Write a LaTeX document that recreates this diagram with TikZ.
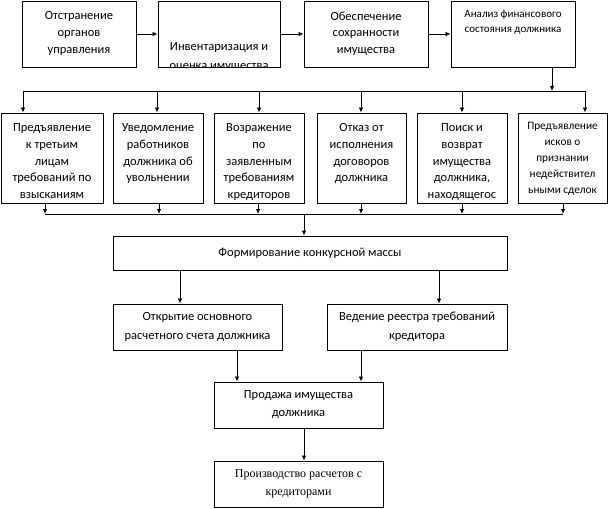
\documentclass[tikz,border=0pt]{standalone}
\usepackage{fontspec}
\setmainfont{Carlito}
\newfontfamily\serifru{Liberation Serif}
\usetikzlibrary{arrows.meta}
\begin{document}
\begin{tikzpicture}[x=1pt,y=-1pt,
  box/.style={draw=black, line width=0.9pt, fill=white, inner sep=0pt},
  lbl/.style={align=center, inner sep=0pt, anchor=north, execute at begin node=\strut},
  big/.style={font=\fontsize{12.5}{16.7}\selectfont},
  small/.style={font=\fontsize{11}{15.5}\selectfont},
  arr/.style={-{Latex[length=5pt,width=4.5pt]}, line width=0.8pt},
  ln/.style={line width=0.8pt}]
\useasboundingbox (0,0) rectangle (609,508);
% top row
\node[box, minimum width=114pt, minimum height=66pt] (b1) at (79,34) {};
\node[box, minimum width=122pt, minimum height=66pt] (b2) at (219,34) {};
\node[box, minimum width=124pt, minimum height=66pt] (b3) at (366,34) {};
\node[box, minimum width=124pt, minimum height=66pt] (b4) at (513,34) {};
\node[lbl, big] (t1) at ([yshift=-11pt]b1.north) {Отстранение\\органов\\управления};
\begin{scope}
\clip (b2.north west) rectangle (b2.south east);
\node[lbl, font=\fontsize{12.5}{19}\selectfont] (t2) at ([yshift=-42pt]b2.north) {Инвентаризация и\\оценка имущества};
\end{scope}
\node[lbl, big] (t3) at ([yshift=-11pt]b3.north) {Обеспечение\\сохранности\\имущества};
\node[lbl, small] (t4) at ([yshift=-9pt]b4.north) {Анализ финансового\\состояния должника};
\draw[arr] (b1) -- (b2);
\draw[arr] (b2) -- (b3);
\draw[arr] (b3) -- (b4);
% second row
\node[box, minimum width=102pt, minimum height=90pt] (ra) at (52,158) {};
\node[box, minimum width=90pt, minimum height=90pt] (rb) at (158,158) {};
\node[box, minimum width=90pt, minimum height=90pt] (rc) at (259,158) {};
\node[box, minimum width=89pt, minimum height=90pt] (rd) at (361.5,158) {};
\node[box, minimum width=90pt, minimum height=90pt] (re) at (462,158) {};
\node[box, minimum width=89pt, minimum height=90pt] (rf) at (562.5,158) {};
\node[lbl, big] (la) at ([yshift=-11pt]ra.north) {Предъявление\\к третьим\\лицам\\требований по\\взысканиям};
\node[lbl, big] (lb) at ([yshift=-11pt]rb.north) {Уведомление\\работников\\должника об\\увольнении};
\node[lbl, big] (lc) at ([yshift=-11pt]rc.north) {Возражение\\по\\заявленным\\требованиям\\кредиторов};
\node[lbl, big] (ld) at ([yshift=-11pt]rd.north) {Отказ от\\исполнения\\договоров\\должника};
\node[lbl, big] (le) at ([yshift=-11pt]re.north) {Поиск и\\возврат\\имущества\\должника,\\находящегос};
\node[lbl, font=\fontsize{11.3}{16}\selectfont] (lf) at ([yshift=-9pt]rf.north) {Предъявление\\исков о\\признании\\недействител\\ьными сделок};
% upper bus
\coordinate (d4) at (552,91);
\coordinate (ta) at (23,91);
\coordinate (tb) at (157,91);
\coordinate (tc) at (259,91);
\coordinate (td) at (361,91);
\coordinate (te) at (462,91);
\coordinate (tf) at (585,91);
\draw[arr] (b4.south -| d4) -- (d4);
\draw[ln] (ta) -- (tf);
\foreach \c/\n in {ta/ra,tb/rb,tc/rc,td/rd,te/re,tf/rf}
  \draw[arr] (\c) -- (\c |- \n.north);
% lower bus
\coordinate (ba) at (45,214);
\coordinate (bb) at (159,214);
\coordinate (bc) at (258,214);
\coordinate (bd) at (361,214);
\coordinate (be) at (462,214);
\coordinate (bf) at (563,214);
\coordinate (bm) at (304,214);
\foreach \c/\n in {ba/ra,bb/rb,bc/rc,bd/rd,be/re,bf/rf}
  \draw[arr] (\c |- \n.south) -- (\c);
\draw[ln] (ba) -- (bf);
% formation
\node[box, big, minimum width=394pt, minimum height=34pt] (form) at (310,253) {Формирование конкурсной массы};
\draw[arr] (bm) -- (bm |- form.north);
\node[box, align=center, font=\fontsize{12.5}{19.5}\selectfont, minimum width=169pt, minimum height=46pt] (open) at (197.5,327) {Открытие основного\\расчетного счета должника};
\node[box, align=center, font=\fontsize{12.5}{19.5}\selectfont, minimum width=180pt, minimum height=46pt] (reg) at (417,327) {Ведение реестра требований\\кредитора};
\coordinate (x1) at (180,0);
\coordinate (x2) at (439,0);
\draw[arr] (x1 |- form.south) -- (x1 |- open.north);
\draw[arr] (x2 |- form.south) -- (x2 |- reg.north);
\node[box, align=center, font=\fontsize{12.5}{18}\selectfont, minimum width=169pt, minimum height=46pt] (sale) at (298.5,405) {Продажа имущества\\должника};
\coordinate (x3) at (237,0);
\coordinate (x4) at (361,0);
\draw[arr] (x3 |- open.south) -- (x3 |- sale.north);
\draw[arr] (x4 |- reg.south) -- (x4 |- sale.north);
\node[box, align=center, font=\serifru\fontsize{12}{18}\selectfont, minimum width=169pt, minimum height=46pt] (calc) at (298.5,484) {Производство расчетов с\\кредиторами};
\coordinate (x5) at (304,0);
\draw[arr] (x5 |- sale.south) -- (x5 |- calc.north);
\end{tikzpicture}
\end{document}
